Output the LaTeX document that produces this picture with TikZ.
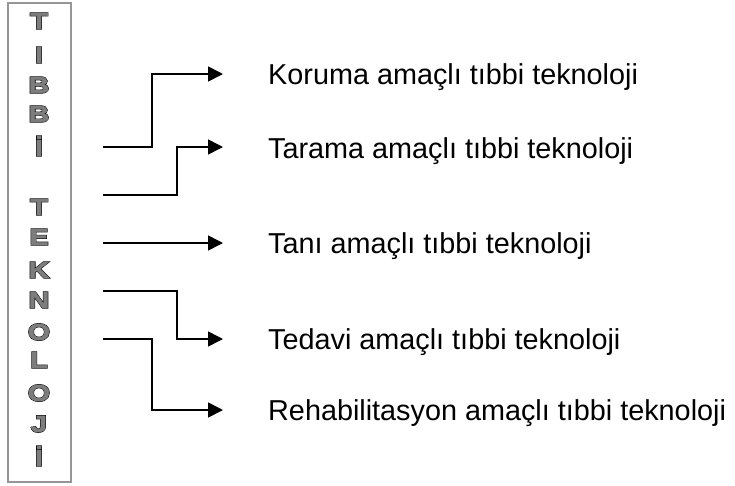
\documentclass[tikz,border=0pt]{standalone}
\usepackage{fontspec}
\setmainfont{Liberation Sans}
\newfontfamily\lettfont{Liberation Sans Bold}[FakeBold=2.5,FakeStretch=1.25]
\newfontfamily\lettfontfat{Liberation Sans Bold}[FakeBold=7,FakeStretch=1.25]
\usetikzlibrary{arrows.meta}
\definecolor{boxgray}{RGB}{150,150,150}
\definecolor{letgray}{RGB}{125,125,125}
\newcommand{\outl}[1]{\rlap{\lettfontfat\color{black}#1}{\lettfont\color{letgray}#1}}
\begin{document}
\begin{tikzpicture}[x=1pt,y=-1pt,
  conn/.style={line width=1.6pt,-{Triangle[length=15pt,width=15pt]}},
  lbl/.style={anchor=base west,inner sep=0pt,font=\fontsize{28.8}{30}\selectfont},
  lett/.style={inner sep=0pt,font=\fontsize{23}{24}\selectfont}]
\useasboundingbox (0,0) rectangle (735,485);
\node[draw=boxgray,line width=1.5pt,minimum width=63pt,minimum height=479pt,inner sep=0pt] (box) at (39.5,242.5) {};
% letters
\foreach \ch/\yy [count=\i] in {T/21,I/55,B/85,B/114,İ/146,T/207,E/237,K/270,N/300,O/332,L/360,O/393,J/424,İ/456}
  \node[lett] (L\i) at (39,\yy) {\outl{\ch}};
% starts
\coordinate (s1) at (103,147);
\coordinate (s2) at (103,195);
\coordinate (s3) at (103,243);
\coordinate (s4) at (103,291);
\coordinate (s5) at (103,339);
% labels
\node[lbl] (t1) at (268,84) {Koruma amaçlı tıbbi teknoloji};
\node[lbl] (t2) at (268,158) {Tarama amaçlı tıbbi teknoloji};
\node[lbl] (t3) at (268,253) {Tanı amaçlı tıbbi teknoloji};
\node[lbl] (t4) at (268,349) {Tedavi amaçlı tıbbi teknoloji};
\node[lbl] (t5) at (268,420) {Rehabilitasyon amaçlı tıbbi teknoloji};
\coordinate (e1) at (223,74);
\coordinate (e2) at (223,147);
\coordinate (e3) at (223,243);
\coordinate (e4) at (223,339);
\coordinate (e5) at (223,410);
\draw[conn] (s1) -- (152,147) -- (152,74) -- (e1);
\draw[conn] (s2) -- (177,195) -- (177,147) -- (e2);
\draw[conn] (s3) -- (e3);
\draw[conn] (s4) -- (177,291) -- (177,339) -- (e4);
\draw[conn] (s5) -- (152,339) -- (152,410) -- (e5);
\end{tikzpicture}
\end{document}
